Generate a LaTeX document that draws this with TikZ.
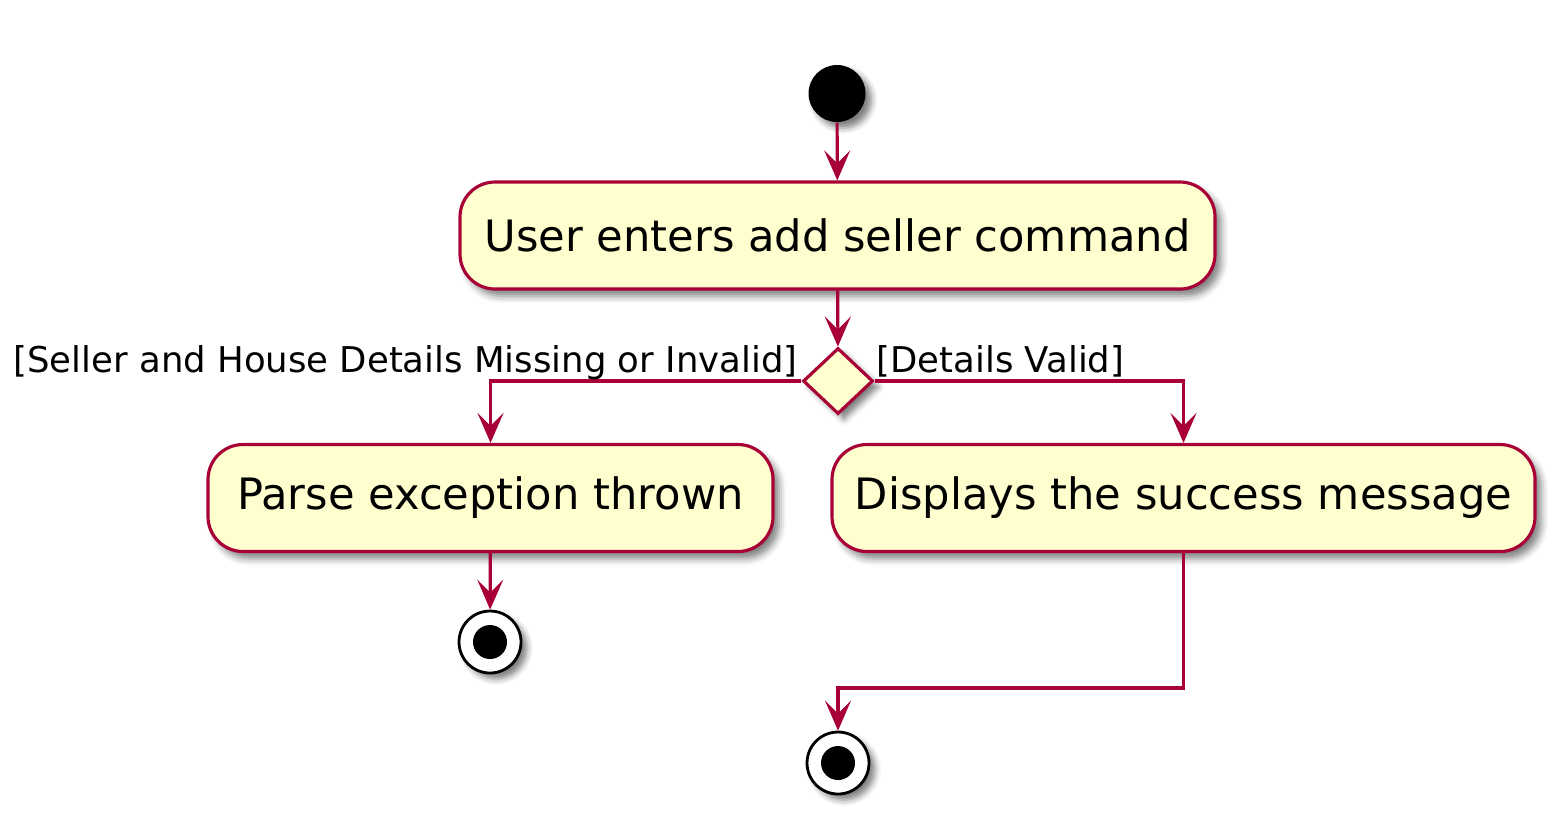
\documentclass[tikz,border=0pt]{standalone}
\usepackage{fontspec}
\setmainfont{DejaVu Sans}
\usetikzlibrary{shapes.geometric,arrows.meta,shadows.blur}
\definecolor{umlred}{HTML}{A80036}
\definecolor{umlfill}{HTML}{FEFECE}
\tikzset{
  actbox/.style={draw=umlred,fill=umlfill,line width=0.9pt,rounded corners=0.35cm,
    minimum height=1.07cm,inner sep=0pt,font=\fontsize{12.3}{14}\selectfont,
    blur shadow={shadow xshift=0.06cm,shadow yshift=-0.07cm,shadow blur radius=0.07cm,shadow opacity=50}},
  flow/.style={draw=umlred,line width=0.9pt,-{Stealth[length=0.3cm,width=0.26cm,inset=0.13cm]}},
  guard/.style={font=\fontsize{10.1}{12}\selectfont,inner sep=0pt},
  endshadow/.style={blur shadow={shadow xshift=0.06cm,shadow yshift=-0.06cm,shadow blur radius=0.06cm,shadow opacity=50}}
}
\begin{document}
\begin{tikzpicture}[scale=1]
\useasboundingbox (0,0) rectangle (15.57,-8.19);
\node[circle,fill=black,minimum size=0.57cm,inner sep=0pt,endshadow] (start) at (8.37,-0.935) {};
\node[actbox,minimum width=7.55cm] (act1) at (8.375,-2.355) {User enters add seller command};
\node[diamond,draw=umlred,fill=umlfill,line width=0.9pt,minimum width=0.70cm,minimum height=0.66cm,inner sep=0pt,endshadow] (dec) at (8.38,-3.81) {};
\node[actbox,minimum width=5.65cm] (act2) at (4.905,-4.98) {Parse exception thrown};
\node[actbox,minimum width=7.03cm] (act3) at (11.835,-4.98) {Displays the success message};
\node[circle,draw=black,fill=white,line width=0.8pt,minimum size=0.62cm,inner sep=0pt,endshadow] (stop1) at (4.9,-6.42) {};
\fill[black] (stop1.center) circle (0.17);
\node[circle,draw=black,fill=white,line width=0.8pt,minimum size=0.62cm,inner sep=0pt,endshadow] (stop2) at (8.38,-7.63) {};
\fill[black] (stop2.center) circle (0.17);
\coordinate (merge) at (8.38,-6.88);
\draw[flow] (start) -- (act1);
\draw[flow] (act1) -- (dec);
\draw[flow] (dec.west) -| (act2.north);
\draw[flow] (dec.east) -| (act3.north);
\draw[flow] (act2) -- (stop1);
\draw[flow] (act3.south) |- (merge) -- (stop2);
\node[guard,anchor=base east] (nolbl) at (7.98,-3.72) {[Seller and House Details Missing or Invalid]};
\node[guard,anchor=base west] (oklbl) at (8.76,-3.72) {[Details Valid]};
\end{tikzpicture}
\end{document}
